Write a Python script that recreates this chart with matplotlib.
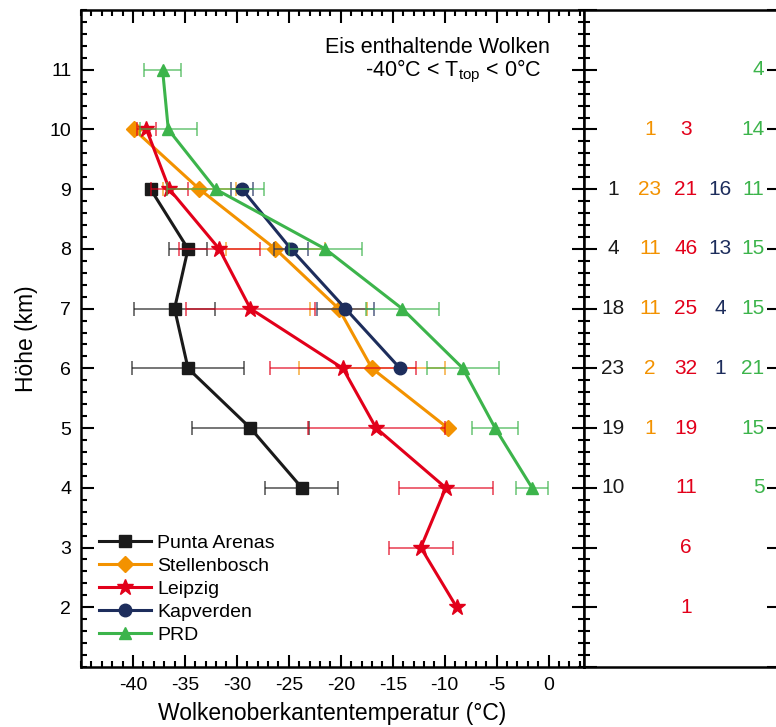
import numpy as np
import matplotlib
matplotlib.use("Agg")
import matplotlib.pyplot as plt
from matplotlib.ticker import MultipleLocator

plt.rcParams['font.family'] = ['Liberation Sans', 'DejaVu Sans']
plt.rcParams['mathtext.default'] = 'regular'
plt.rcParams['axes.unicode_minus'] = False

# cloud-top temperature (°C), spread and number of cases per height bin (km)
sites = ['Punta Arenas', 'Stellenbosch', 'Leipzig', 'Kapverden', 'PRD']

pa_h = [9, 8, 7, 6, 5, 4]
pa_t = [-38.3, -34.7, -36.0, -34.7, -28.7, -23.75]
pa_err = [np.nan, 1.8, 3.9, 5.4, 5.65, 3.5]
pa_n = [1, 4, 18, 23, 19, 10]

st_h = [10, 9, 8, 7, 6, 5]
st_t = [-39.9, -33.6, -26.3, -20.2, -17.0, -9.7]
st_err = [np.nan, 3.55, 4.75, 2.75, 7.0, np.nan]
st_n = [1, 23, 11, 11, 2, 1]

le_h = [10, 9, 8, 7, 6, 5, 4, 3, 2]
le_t = [-38.7, -36.5, -31.7, -28.7, -19.8, -16.6, -9.9, -12.3, -8.85]
le_err = [0.9, 1.8, 3.9, 6.2, 7.0, 6.6, 4.5, 3.1, np.nan]
le_n = [3, 21, 46, 25, 32, 19, 11, 6, 1]

kv_h = [9, 8, 7, 6]
kv_t = [-29.5, -24.8, -19.55, -14.3]
kv_err = [1.05, 1.6, 2.7, np.nan]
kv_n = [16, 13, 4, 1]

prd_h = [11, 10, 9, 8, 7, 6, 5, 4]
prd_t = [-37.15, -36.6, -32.05, -21.5, -14.1, -8.25, -5.15, -1.6]
prd_err = [1.75, 2.75, 4.65, 3.5, 3.5, 3.45, 2.2, 1.5]
prd_n = [4, 14, 11, 15, 15, 21, 15, 5]

series = [
    (pa_h, pa_t, pa_err, pa_n),
    (st_h, st_t, st_err, st_n),
    (le_h, le_t, le_err, le_n),
    (kv_h, kv_t, kv_err, kv_n),
    (prd_h, prd_t, prd_err, prd_n),
]
colors = ['#1a1a1a', '#f39200', '#e2001a', '#1d2d5c', '#3cb44b']
markers = ['s', 'D', '*', 'o', '^']
msizes = [9, 8, 12, 9, 9]
# column placement of the case counts in the side panel (axes fraction)
count_x = [0.149, 0.338, 0.523, 0.697, 0.925]
count_ha = ['center', 'center', 'center', 'center', 'right']

fig = plt.figure(figsize=(7.76, 7.27), dpi=100)
ax = fig.add_axes([81 / 776, 60 / 727, 503 / 776, 657 / 727])
axn = fig.add_axes([584 / 776, 60 / 727, 195 / 776, 657 / 727])

for (h, t, err, n), c, m, ms, name in zip(series, colors, markers, msizes, sites):
    ax.errorbar(t, h, xerr=err, fmt='none', ecolor=c, elinewidth=1.3,
                capsize=5, capthick=1.3, alpha=0.65)
    ax.plot(t, h, color=c, marker=m, markersize=ms, linewidth=2.2, label=name)

ax.xaxis.set_minor_locator(MultipleLocator(1))
ax.yaxis.set_minor_locator(MultipleLocator(0.2))
ax.set_xticks(np.arange(-40, 1, 5))
ax.set_xlim(-45, 3.4)
ax.set_yticks(np.arange(2, 12, 1))
ax.set_ylim(1, 12)
ax.tick_params(which='both', direction='in', top=True, right=True, width=1.5,
               labelsize=14, pad=7)
ax.tick_params(which='major', length=9)
ax.tick_params(which='minor', length=4.5)
for s in ax.spines.values():
    s.set_linewidth(1.8)

ax.set_xlabel('Wolkenoberkantentemperatur (°C)', fontsize=16.5, labelpad=6)
ax.set_ylabel('Höhe (km)', fontsize=16.5, labelpad=8)

ax.text(-21.5, 11.37, 'Eis enthaltende Wolken', fontsize=15.5, va='center')
ax.text(-17.7, 10.97, '-40°C < T$_{top}$ < 0°C', fontsize=15.5, va='center')

ax.legend(loc='lower left', bbox_to_anchor=(-0.011, 0.0), frameon=False,
          fontsize=14, handlelength=2.7, handletextpad=0.3, labelspacing=0.27,
          borderaxespad=0.8, borderpad=0.4)

# side panel with the number of cases per height bin
axn.set_xlim(0, 1)
axn.set_ylim(1, 12)
axn.set_xticks([])
axn.yaxis.set_major_locator(MultipleLocator(1))
axn.yaxis.set_minor_locator(MultipleLocator(0.2))
axn.tick_params(which='both', direction='in', left=True, right=True,
                labelleft=False, width=1.5)
axn.tick_params(which='major', length=9)
axn.tick_params(which='minor', length=4.5, right=False)
for s in axn.spines.values():
    s.set_linewidth(1.8)

for (h, t, err, n), c, x, ha in zip(series, colors, count_x, count_ha):
    for hh, nn in zip(h, n):
        axn.text(x, hh, str(nn), color=c, fontsize=15, ha=ha, va='center')

fig.savefig('out.png', dpi=100)
